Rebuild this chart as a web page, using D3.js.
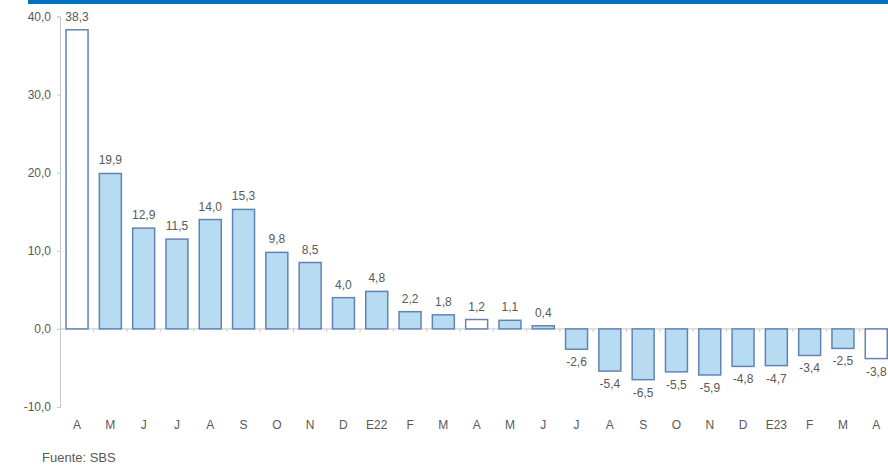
<!DOCTYPE html>
<html>
<head>
<meta charset="utf-8">
<script src="https://cdn.jsdelivr.net/npm/d3@7"></script>
<style>
  body { margin: 0; background: #fff; }
  svg text { font-family: "Liberation Sans", Arial, sans-serif; fill: #595959; }
</style>
</head>
<body>
<div id="my_dataviz"></div>
<script>
// months (A = abril 2021 ... A = abril 2023)
var months = ["A","M","J","J","A","S","O","N","D","E22","F","M","A","M","J","J","A","S","O","N","D","E23","F","M","A"]
var values = [38.3,19.9,12.9,11.5,14.0,15.3,9.8,8.5,4.0,4.8,2.2,1.8,1.2,1.1,0.4,-2.6,-5.4,-6.5,-5.5,-5.9,-4.8,-4.7,-3.4,-2.5,-3.8]
var yTicks = [-10,0,10,20,30,40]
var source = "Fuente: SBS"

var W = 888, H = 466

var svg = d3.select("#my_dataviz")
  .append("svg")
    .attr("width", W)
    .attr("height", H)

// blue band on top
svg.append("rect")
  .attr("x", 28).attr("y", 0)
  .attr("width", W - 28).attr("height", 4)
  .attr("fill", "#0070C0")

var es = d3.formatLocale({decimal: ",", thousands: ".", grouping: [3], currency: ["", ""], minus: "-"})
var fmt = es.format(".1f")

var x = d3.scaleBand()
  .domain(d3.range(months.length))
  .range([60.4, 60.4 + 33.3 * months.length])
  .paddingInner(0.34)
  .paddingOuter(0.17)

var y = d3.scaleLinear()
  .domain([-10, 40])
  .range([407, 16.5])

// y axis
var yAxis = svg.append("g")
  .attr("transform", "translate(60,0)")
  .call(d3.axisLeft(y).tickValues(yTicks).tickSize(3).tickFormat(fmt))
yAxis.select(".domain").attr("stroke", "#c8c8c8")
yAxis.selectAll(".tick line").attr("stroke", "#c8c8c8")
yAxis.selectAll("text").attr("font-size", 12).attr("x", -9)

// zero line with small ticks between months
var xAxis = svg.append("g")
  .attr("transform", "translate(0," + y(0) + ")")
  .call(d3.axisBottom(x).tickSize(0).tickFormat(""))
xAxis.select(".domain").attr("stroke", "#c8c8c8").attr("d", "M60,0H" + W)
xAxis.selectAll(".tick").remove()
xAxis.selectAll(".sep")
  .data(d3.range(1, months.length))
  .enter().append("line")
    .attr("x1", d => x(d) - x.step() * x.paddingInner() / 2)
    .attr("x2", d => x(d) - x.step() * x.paddingInner() / 2)
    .attr("y1", 0).attr("y2", 3)
    .attr("stroke", "#c8c8c8")

// bars, april months in white
var highlight = function(i) { return i == 0 || i == 12 || i == 24 }
svg.selectAll(".bar")
  .data(values)
  .enter().append("rect")
    .attr("x", (d, i) => x(i))
    .attr("width", x.bandwidth())
    .attr("y", d => y(Math.max(0, d)))
    .attr("height", d => Math.abs(y(d) - y(0)))
    .attr("fill", (d, i) => highlight(i) ? "#ffffff" : "#b7dcf2")
    .attr("stroke", "#6483b5")
    .attr("stroke-width", 1.5)

// value labels
svg.selectAll(".lbl")
  .data(values)
  .enter().append("text")
    .attr("x", (d, i) => x(i) + x.bandwidth() / 2)
    .attr("y", d => d >= 0 ? y(d) - 9 : y(d) + 17)
    .attr("text-anchor", "middle")
    .attr("font-size", 12)
    .text(d => fmt(d))

// month labels
svg.selectAll(".mon")
  .data(months)
  .enter().append("text")
    .attr("x", (d, i) => x(i) + x.bandwidth() / 2)
    .attr("y", 429)
    .attr("text-anchor", "middle")
    .attr("font-size", 12)
    .text(d => d)

svg.append("text")
  .attr("x", 42).attr("y", 462)
  .attr("font-size", 13)
  .text(source)
</script>
</body>
</html>
